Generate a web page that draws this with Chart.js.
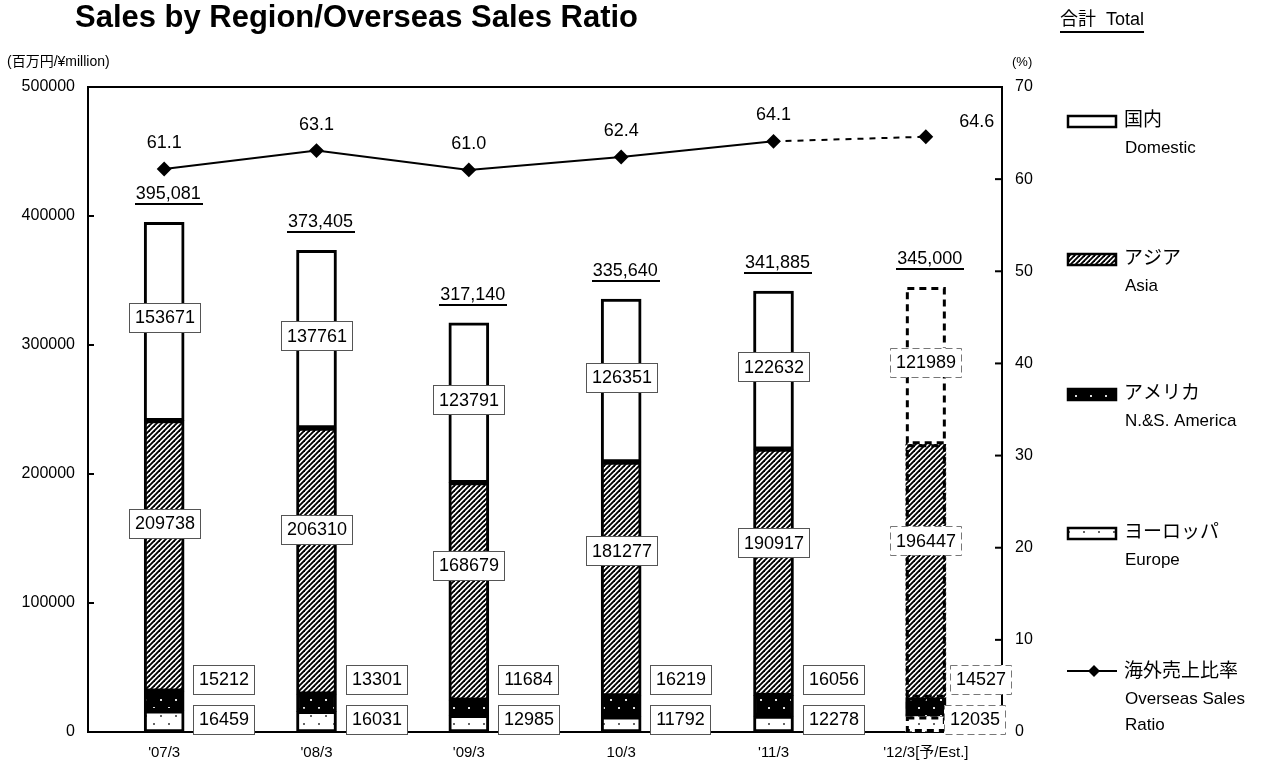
<!DOCTYPE html>
<html><head><meta charset="utf-8">
<script src="https://cdn.jsdelivr.net/npm/chart.js@4"></script>
<style>html,body{margin:0;padding:0;background:#fff}canvas{display:block}</style>
</head><body>
<canvas id="c" width="1282" height="766"></canvas>
<script>
// ---- data ----
const categories = ["'07/3", "'08/3", "'09/3", "10/3", "'11/3", "'12/3[予/Est.]"];
const domestic = [153671, 137761, 123791, 126351, 122632, 121989];
const asia     = [209738, 206310, 168679, 181277, 190917, 196447];
const america  = [15212, 13301, 11684, 16219, 16056, 14527];
const europe   = [16459, 16031, 12985, 11792, 12278, 12035];
const overseasRatio = [61.1, 63.1, 61.0, 62.4, 64.1, 64.6];
const totals = ["395,081", "373,405", "317,140", "335,640", "341,885", "345,000"];
const ratioLabels = ["61.1", "63.1", "61.0", "62.4", "64.1", "64.6"];
const estimateIndex = 5;

const F = '"Liberation Sans","Noto Sans CJK JP",sans-serif';
const font = (px, bold) => (bold ? 'bold ' : '') + px + 'px ' + F;

// ---- patterns ----
function makeTile(w, h, draw) {
  const c = document.createElement('canvas'); c.width = w; c.height = h;
  const g = c.getContext('2d'); draw(g, w, h);
  return document.getElementById('c').getContext('2d').createPattern(c, 'repeat');
}
const hatch = makeTile(5, 5, (g, w, h) => {
  g.fillStyle = '#fff'; g.fillRect(0, 0, w, h);
  g.strokeStyle = '#000'; g.lineWidth = 1.9;
  [[-1, 1, 1, -1], [0, 5, 5, 0], [4, 6, 6, 4]].forEach(l => { g.beginPath(); g.moveTo(l[0], l[1]); g.lineTo(l[2], l[3]); g.stroke(); });
});
const blackDots = makeTile(15, 16, (g, w, h) => {
  g.fillStyle = '#000'; g.fillRect(0, 0, w, h);
  g.fillStyle = '#ddd'; g.fillRect(3, 3, 2, 2); g.fillRect(10, 11, 2, 2);
});
const whiteDots = makeTile(15, 16, (g, w, h) => {
  g.fillStyle = '#fff'; g.fillRect(0, 0, w, h);
  g.fillStyle = '#666'; g.fillRect(3, 3, 2, 2); g.fillRect(10, 11, 2, 2);
});

const barBorder = c => c.dataIndex === estimateIndex ? 0 : 3;

function labelBox(ctx, text, cx, cy, dashed, alignLeft) {
  ctx.font = font(18);
  const w = Math.round(ctx.measureText(text).width + 11), h = 29;
  const x0 = Math.round(alignLeft ? cx : cx - w / 2), y0 = Math.round(cy - h / 2);
  ctx.fillStyle = '#fff'; ctx.fillRect(x0, y0, w, h);
  ctx.strokeStyle = dashed ? '#777' : '#555'; ctx.lineWidth = 1;
  ctx.setLineDash(dashed ? [7, 4] : []);
  ctx.strokeRect(x0 + 0.5, y0 + 0.5, w, h);
  ctx.setLineDash([]);
  ctx.fillStyle = '#000'; ctx.textAlign = 'center'; ctx.textBaseline = 'middle';
  ctx.fillText(text, x0 + w / 2 + 0.5, cy + 1);
}

const decor = {
  id: 'decor',
  afterDatasetsDraw(chart) {
    const ctx = chart.ctx;
    ctx.save();
    for (let d = 0; d < 4; d++) {
      const el = chart.getDatasetMeta(d).data[estimateIndex];
      const p = el.getProps(['x', 'y', 'base', 'width'], true);
      const l = p.x - p.width / 2;
      ctx.strokeStyle = '#000'; ctx.lineWidth = 3; ctx.setLineDash([7, 5]);
      ctx.strokeRect(l + 1.5, p.y + 1.5, p.width - 3, p.base - p.y - 3);
    }
    ctx.restore();
  },
  afterDraw(chart) {
    const ctx = chart.ctx, a = chart.chartArea;
    const sy = chart.scales.y, sy1 = chart.scales.y1;
    ctx.save();
    // frame top line
    ctx.strokeStyle = '#000'; ctx.lineWidth = 2;
    ctx.beginPath(); ctx.moveTo(a.left - 1, a.top); ctx.lineTo(a.right + 1, a.top); ctx.stroke();
    // inward ticks
    ctx.lineWidth = 2;
    sy.ticks.forEach(t => { const y = sy.getPixelForValue(t.value); ctx.beginPath(); ctx.moveTo(a.left, y); ctx.lineTo(a.left + 6, y); ctx.stroke(); });
    sy1.ticks.forEach(t => { const y = sy1.getPixelForValue(t.value); ctx.beginPath(); ctx.moveTo(a.right, y); ctx.lineTo(a.right - 7, y); ctx.stroke(); });

    const mS = chart.getDatasetMeta(2), mD = chart.getDatasetMeta(3), mL = chart.getDatasetMeta(4);
    for (let i = 0; i < categories.length; i++) {
      const est = i === estimateIndex;
      const d = mD.data[i].getProps(['x', 'y', 'base'], true);
      const s = mS.data[i].getProps(['x', 'y', 'base'], true);
      labelBox(ctx, String(domestic[i]), d.x, d.base - (d.base - d.y) * 0.52, est);
      labelBox(ctx, String(asia[i]), s.x, s.base - (s.base - s.y) * 0.62, est);
      const sideX = d.x + (est ? 24 : 29);
      labelBox(ctx, String(america[i]), sideX, a.bottom - 53, est, true);
      labelBox(ctx, String(europe[i]), sideX - (est ? 6 : 0), a.bottom - 13, est, true);
      // totals
      ctx.font = font(18); ctx.fillStyle = '#000'; ctx.textAlign = 'center'; ctx.textBaseline = 'middle';
      const ty = d.y - 28;
      ctx.fillText(totals[i], d.x + 4, ty);
      const tw = ctx.measureText(totals[i]).width;
      ctx.fillRect(Math.round(d.x + 4 - tw / 2 - 1), Math.round(ty + 9), Math.round(tw + 3), 2);
      // ratio labels
      const pt = mL.data[i];
      if (est) ctx.fillText(ratioLabels[i], pt.x + 51, pt.y - 15);
      else ctx.fillText(ratioLabels[i], pt.x, pt.y - 26);
    }

    // titles
    ctx.fillStyle = '#000'; ctx.textBaseline = 'middle';
    ctx.textAlign = 'left';
    ctx.font = font(31, true);
    ctx.fillText('Sales by Region/Overseas Sales Ratio', 75, 18, 563);
    ctx.font = font(14);
    ctx.fillText('(百万円/¥million)', 7, 62);
    ctx.font = font(13);
    ctx.fillText('(%)', 1012, 62);
    ctx.font = font(18);
    ctx.fillText('合計  Total', 1060, 20);
    const ttw = ctx.measureText('合計  Total').width;
    ctx.fillRect(1060, 31, ttw, 2);

    // legend
    const sw = (y, fill) => {
      ctx.fillStyle = fill; ctx.fillRect(1067, y, 50, 13);
      ctx.strokeStyle = '#000'; ctx.lineWidth = 2.5; ctx.setLineDash([]);
      ctx.strokeRect(1068, y + 1, 48, 11);
    };
    const legendText = (y, l1, l2, l3) => {
      ctx.fillStyle = '#000'; ctx.textAlign = 'left'; ctx.textBaseline = 'middle';
      ctx.font = font(19); ctx.fillText(l1, 1124, y);
      ctx.font = font(17); ctx.fillText(l2, 1125, y + 27);
      if (l3) ctx.fillText(l3, 1125, y + 53);
    };
    sw(115, '#fff'); legendText(121, '国内', 'Domestic');
    sw(253, hatch); legendText(259, 'アジア', 'Asia');
    sw(388, blackDots); legendText(394, 'アメリカ', 'N.&S. America');
    sw(527, whiteDots); legendText(533, 'ヨーロッパ', 'Europe');
    ctx.strokeStyle = '#000'; ctx.lineWidth = 2;
    ctx.beginPath(); ctx.moveTo(1067, 671); ctx.lineTo(1117, 671); ctx.stroke();
    ctx.fillStyle = '#000';
    ctx.beginPath(); ctx.moveTo(1094, 665); ctx.lineTo(1100, 671); ctx.lineTo(1094, 677); ctx.lineTo(1088, 671); ctx.closePath(); ctx.fill();
    legendText(672, '海外売上比率', 'Overseas Sales', 'Ratio');
    ctx.restore();
  }
};

const barCommon = { type: 'bar', yAxisID: 'y', borderColor: '#000', borderWidth: barBorder, borderSkipped: false, order: 2, barThickness: 40 };

new Chart(document.getElementById('c'), {
  data: {
    labels: categories,
    datasets: [
      Object.assign({ label: 'ヨーロッパ Europe', data: europe, backgroundColor: whiteDots }, barCommon),
      Object.assign({ label: 'アメリカ N.&S. America', data: america, backgroundColor: blackDots }, barCommon),
      Object.assign({ label: 'アジア Asia', data: asia, backgroundColor: hatch }, barCommon),
      Object.assign({ label: '国内 Domestic', data: domestic, backgroundColor: '#fff' }, barCommon),
      {
        type: 'line', label: '海外売上比率 Overseas Sales Ratio', data: overseasRatio, yAxisID: 'y1', order: 1,
        borderColor: '#000', borderWidth: 2, backgroundColor: '#000',
        pointStyle: 'rectRot', pointRadius: 6, pointBackgroundColor: '#000', pointBorderColor: '#000',
        tension: 0, fill: false,
        segment: { borderDash: c => c.p1DataIndex === estimateIndex ? [6, 6] : undefined }
      }
    ]
  },
  options: {
    responsive: false, animation: false, devicePixelRatio: 1,
    layout: { padding: { top: 87, left: 0, right: 0, bottom: 0 } },
    plugins: { legend: { display: false }, title: { display: false }, tooltip: { enabled: false } },
    scales: {
      x: {
        stacked: true,
        grid: { display: false, drawTicks: false },
        border: { display: true, color: '#000', width: 2 },
        ticks: { font: { size: 15, family: F }, color: '#000', padding: 12, maxRotation: 0, autoSkip: false },
        afterFit: s => { s.height = 34; }
      },
      y: {
        stacked: true, min: 0, max: 500000, position: 'left',
        grid: { display: false, drawTicks: false },
        border: { display: true, color: '#000', width: 2 },
        ticks: { stepSize: 100000, font: { size: 16, family: F }, color: '#000', padding: 13, callback: v => String(v) },
        afterFit: s => { s.width = 88; }
      },
      y1: {
        min: 0, max: 70, position: 'right',
        grid: { display: false, drawTicks: false },
        border: { display: true, color: '#000', width: 2 },
        ticks: { stepSize: 10, font: { size: 16, family: F }, color: '#000', padding: 13 },
        afterFit: s => { s.width = 280; }
      }
    }
  },
  plugins: [decor]
});
</script>
</body></html>
